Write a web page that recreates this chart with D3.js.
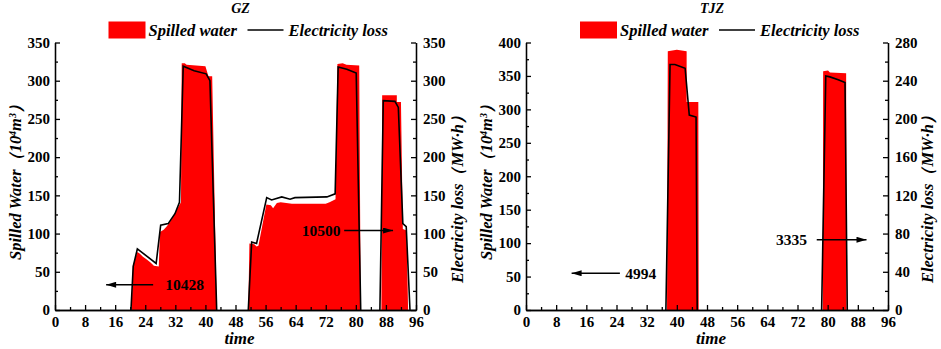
<!DOCTYPE html>
<html>
<head>
<meta charset="utf-8">
<script src="https://cdn.jsdelivr.net/npm/d3@7"></script>
<style>
  body { margin: 0; background: #fff; }
  svg { display: block; }
  text { font-family: "Liberation Serif", "Times New Roman", serif; font-weight: bold; }
  .axis path, .axis line { stroke: #000; stroke-width: 1.3; }
  .axis text { font-size: 15px; fill: #000; }
</style>
</head>
<body>
<div id="chart"></div>
<script>

// ---- data: [time, value] vertices, one array per block ----
const timeTicks = d3.range(0, 97, 8);
const timeMinor = d3.range(4, 97, 8);

const gzSpilled = [
  [[20.4,0],[20.7,58],[21.9,76],[22.5,74],[23.3,70],[24.4,66],[25.4,62],[26.3,58],[27.6,57],[27.9,102],
   [28.9,105],[29.8,110],[30.8,117],[31.8,125],[32.7,134],[33.5,141],[33.7,323],[34.5,323],[35.0,321],
   [37.5,320],[40.0,319],[40.8,306],[41.8,306],[43.0,0]],
  [[51.4,0],[51.7,87],[53.0,86],[53.6,83],[54.1,84],[56.2,138],[57.4,137],[58.0,133],[59.0,140],[60.0,141],
   [63.0,139],[72.0,139],[73.0,141],[74.6,145],[75.1,322],[76.5,323],[77.5,321],[80.9,320],[81.3,0]],
  [[86.8,0],[87.0,281],[90.9,281],[90.9,272],[92.0,272],[92.5,106],[93.5,104],[93.9,0]]
];
const gzLoss = [
  [[20.2,0],[20.8,57],[21.9,80],[26.9,61],[28.1,111],[30.1,113],[31.9,126],[33.1,141],[34.1,319],
   [37.0,313],[40.2,309],[41.2,300],[43.0,0]],
  [[51.4,0],[52.3,89],[53.6,87],[56.3,147],[57.6,144],[60.3,148],[62.5,145],[63.8,147],[72.3,148],
   [74.5,152],[75.3,318],[77.6,315],[80.1,310],[81.3,0]],
  [[86.4,0],[87.3,274],[90.4,273],[91.3,265],[92.5,113],[93.4,109],[94.4,0]]
];

const tjzSpilled = [
  [[37.4,0],[37.6,387],[40.0,389],[42.6,387],[42.6,311],[45.7,311],[45.8,0]],
  [[78.7,0],[78.8,357],[80.1,358],[80.6,355],[84.9,354],[85.0,0]]
];
const tjzLoss = [
  [[37.1,0],[38.2,257],[39.5,257],[42.2,253],[43.3,204],[45.1,202],[45.4,0]],
  [[78.4,0],[79.5,245],[80.6,244],[82.8,241],[84.6,238],[85.2,0]]
];

// total electricity loss annotations: text position, arrow from -> to (time units)
const gzNotes = [
  {label: "10428", t: 29.3, v: 33, from: 26.1, to: 13.6},
  {label: "10500", t: 65.6, v: 104, from: 76.9, to: 89.9}
];
const tjzNotes = [
  {label: "4994", t: 26.3, v: 55, from: 24.9, to: 12.1},
  {label: "3335", t: 66.3, v: 105, from: 77.1, to: 90.3}
];

const W = 941, H = 349;
const svg = d3.select("#chart").append("svg")
  .attr("width", W).attr("height", H);

svg.append("defs").append("marker")
  .attr("id", "arrow")
  .attr("viewBox", "0 0 10 6")
  .attr("refX", 10).attr("refY", 3)
  .attr("markerWidth", 11).attr("markerHeight", 6)
  .attr("markerUnits", "userSpaceOnUse")
  .attr("orient", "auto")
  .append("path").attr("d", "M0,0L10,3L0,6Z").attr("fill", "#000");

function drawPanel(cfg) {
  let x = d3.scaleLinear().domain([0, 96]).range(cfg.xRange);
  let yL = d3.scaleLinear().domain([0, cfg.leftMax]).range([310, 42.5]);
  let yR = d3.scaleLinear().domain([0, cfg.rightMax]).range([310, 42.5]);

  let g = svg.append("g");

  // spilled water (red area, left axis)
  let area = d3.area()
    .x(d => x(d[0]))
    .y0(yL(0))
    .y1(d => yL(d[1]));
  g.selectAll(".spill")
    .data(cfg.spilled)
    .enter().append("path")
    .attr("class", "spill")
    .attr("d", area)
    .attr("fill", "#ff0000");

  // electricity loss (black line, right axis)
  let line = d3.line()
    .x(d => x(d[0]))
    .y(d => yR(d[1]));
  g.selectAll(".loss")
    .data(cfg.loss)
    .enter().append("path")
    .attr("class", "loss")
    .attr("d", line)
    .attr("fill", "none")
    .attr("stroke", "#000")
    .attr("stroke-width", 1.6);

  // axes, ticks pointing inward
  g.append("g").attr("class", "axis")
    .attr("transform", "translate(0,310)")
    .call(d3.axisBottom(x).tickValues(timeTicks).tickSize(-5).tickSizeOuter(0).tickPadding(6));
  g.append("g").attr("class", "axis")
    .attr("transform", "translate(0,310)")
    .call(d3.axisBottom(x).tickValues(timeMinor).tickSize(-3).tickSizeOuter(0).tickFormat(""));

  g.append("g").attr("class", "axis")
    .attr("transform", "translate(" + cfg.xRange[0] + ",0)")
    .call(d3.axisLeft(yL).tickValues(d3.range(0, cfg.leftMax + 1, cfg.leftStep)).tickSize(-5).tickSizeOuter(0).tickPadding(5));
  g.append("g").attr("class", "axis")
    .attr("transform", "translate(" + cfg.xRange[0] + ",0)")
    .call(d3.axisLeft(yL).tickValues(d3.range(cfg.leftStep / 2, cfg.leftMax, cfg.leftStep)).tickSize(-3).tickSizeOuter(0).tickFormat(""));

  g.append("g").attr("class", "axis")
    .attr("transform", "translate(" + cfg.xRange[1] + ",0)")
    .call(d3.axisRight(yR).tickValues(d3.range(0, cfg.rightMax + 1, cfg.rightStep)).tickSize(-5).tickSizeOuter(0).tickPadding(7));
  g.append("g").attr("class", "axis")
    .attr("transform", "translate(" + cfg.xRange[1] + ",0)")
    .call(d3.axisRight(yR).tickValues(d3.range(cfg.rightStep / 2, cfg.rightMax, cfg.rightStep)).tickSize(-3).tickSizeOuter(0).tickFormat(""));

  let cx = (cfg.xRange[0] + cfg.xRange[1]) / 2;

  // title
  g.append("text")
    .attr("x", cx + 5).attr("y", 13)
    .attr("text-anchor", "middle")
    .style("font-size", "14px").style("font-style", "italic")
    .text(cfg.title);

  // legend
  let lx = cx - 127;
  g.append("rect")
    .attr("x", lx).attr("y", 21.5)
    .attr("width", 37).attr("height", 17)
    .attr("fill", "#ff0000");
  g.append("text")
    .attr("x", lx + 40).attr("y", 35.5)
    .style("font-size", "16.5px").style("font-style", "italic")
    .text("Spilled water");
  g.append("line")
    .attr("x1", lx + 139).attr("x2", lx + 175)
    .attr("y1", 30).attr("y2", 30)
    .attr("stroke", "#000").attr("stroke-width", 1.6);
  g.append("text")
    .attr("x", lx + 180).attr("y", 35.5)
    .style("font-size", "16.5px").style("font-style", "italic")
    .text("Electricity loss");

  // axis titles
  g.append("text")
    .attr("x", cx + 4).attr("y", 344)
    .attr("text-anchor", "middle")
    .style("font-size", "17px").style("font-style", "italic")
    .text("time");

  let lt = g.append("text")
    .attr("transform", "translate(" + (cfg.xRange[0] - 34) + ",178) rotate(-90)")
    .attr("text-anchor", "middle")
    .style("font-size", "16.5px").style("font-style", "italic");
  lt.append("tspan").text("Spilled Water（10");
  lt.append("tspan").attr("baseline-shift", "super").style("font-size", "10px").text("4");
  lt.append("tspan").text("m");
  lt.append("tspan").attr("baseline-shift", "super").style("font-size", "10px").text("3");
  lt.append("tspan").text("）");

  g.append("text")
    .attr("transform", "translate(" + (cfg.xRange[1] + cfg.rightLabelGap) + ",195) rotate(-90)")
    .attr("text-anchor", "middle")
    .style("font-size", "16.5px").style("font-style", "italic")
    .text("Electricity loss（MW·h）");

  // annotations
  cfg.notes.forEach(n => {
    g.append("text")
      .attr("x", x(n.t)).attr("y", yL(n.v))
      .attr("dy", "0.35em")
      .style("font-size", "15.5px")
      .text(n.label);
    g.append("line")
      .attr("x1", x(n.from)).attr("x2", x(n.to))
      .attr("y1", yL(n.v)).attr("y2", yL(n.v))
      .attr("stroke", "#000").attr("stroke-width", 1.6)
      .attr("marker-end", "url(#arrow)");
  });
}

drawPanel({
  title: "GZ", xRange: [55, 416],
  leftMax: 350, leftStep: 50, rightMax: 350, rightStep: 50, rightLabelGap: 47,
  spilled: gzSpilled, loss: gzLoss, notes: gzNotes
});

drawPanel({
  title: "TJZ", xRange: [526, 888],
  leftMax: 400, leftStep: 50, rightMax: 280, rightStep: 40, rightLabelGap: 45,
  spilled: tjzSpilled, loss: tjzLoss, notes: tjzNotes
});

</script>
</body>
</html>
